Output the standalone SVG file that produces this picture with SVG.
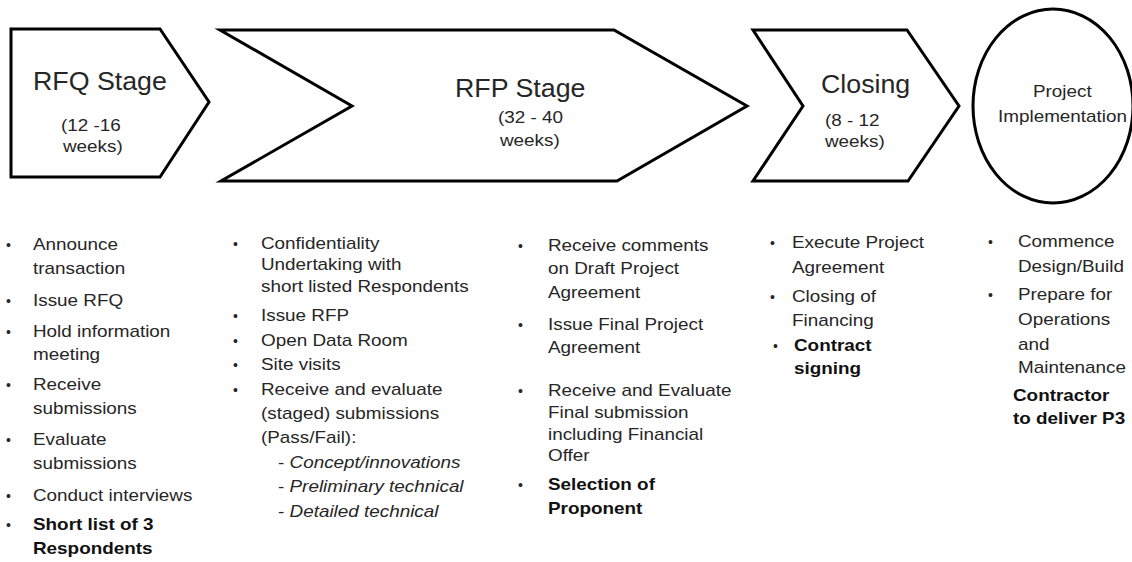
<svg xmlns="http://www.w3.org/2000/svg" width="1132" height="562" viewBox="0 0 1132 562">
  <style>
    .shape { fill: #ffffff; stroke: #000000; stroke-width: 3; stroke-linejoin: miter; }
    text { font-family: "Liberation Sans", Arial, sans-serif; fill: #262626; }
    .title { font-size: 26px; }
    .sub { font-size: 16px; }
    .body { font-size: 16px; }
    .b { font-weight: bold; fill: #111111; }
    .it { font-style: italic; }
    .dot { font-size: 14px; }
  </style>
  <rect width="1132" height="562" fill="#ffffff"/>

  <!-- stage shapes -->
  <g id="rfq-stage">
    <path class="shape" d="M11,29 L160,29 L209,102 L160,177 L11,177 Z"/>
    <text class="title" transform="translate(33,90) scale(1.03,1)">RFQ Stage</text>
    <text class="sub" transform="translate(61,131) scale(1.18,1)">(12 -16</text>
    <text class="sub" transform="translate(63,152) scale(1.18,1)">weeks)</text>
  </g>

  <g id="rfp-stage">
    <path class="shape" d="M220,30 L614,30 L747,106 L617,181 L221,181 L352,106 Z"/>
    <text class="title" transform="translate(455,97) scale(1.03,1)">RFP Stage</text>
    <text class="sub" transform="translate(498,123) scale(1.18,1)">(32 - 40</text>
    <text class="sub" transform="translate(500,146) scale(1.18,1)">weeks)</text>
  </g>

  <g id="closing-stage">
    <path class="shape" d="M753,30 L907,30 L959,106 L908,181 L753,181 L803,106 Z"/>
    <text class="title" transform="translate(821,93) scale(1.03,1)">Closing</text>
    <text class="sub" transform="translate(825,126) scale(1.18,1)">(8 - 12</text>
    <text class="sub" transform="translate(825,147) scale(1.18,1)">weeks)</text>
  </g>

  <g id="project-implementation">
    <ellipse class="shape" cx="1053" cy="106" rx="80" ry="97" stroke-width="2.6"/>
    <text class="sub" transform="translate(1033,97) scale(1.18,1)">Project</text>
    <text class="sub" transform="translate(998,122) scale(1.18,1)">Implementation</text>
  </g>

  <!-- no connectors: stages abut each other -->
  <g id="connectors"></g>

  <!-- RFQ activities -->
  <g id="rfq-tasks" class="body">
    <text class="dot" x="6" y="250">•</text>
    <text transform="translate(33,250) scale(1.18,1)">Announce</text>
    <text transform="translate(33,274) scale(1.18,1)">transaction</text>
    <text class="dot" x="6" y="306">•</text>
    <text transform="translate(33,306) scale(1.18,1)">Issue RFQ</text>
    <text class="dot" x="6" y="337">•</text>
    <text transform="translate(33,337) scale(1.18,1)">Hold information</text>
    <text transform="translate(33,360) scale(1.18,1)">meeting</text>
    <text class="dot" x="6" y="390">•</text>
    <text transform="translate(33,390) scale(1.18,1)">Receive</text>
    <text transform="translate(33,414) scale(1.18,1)">submissions</text>
    <text class="dot" x="6" y="445">•</text>
    <text transform="translate(33,445) scale(1.18,1)">Evaluate</text>
    <text transform="translate(33,469) scale(1.18,1)">submissions</text>
    <text class="dot" x="6" y="501">•</text>
    <text transform="translate(33,501) scale(1.18,1)">Conduct interviews</text>
    <text class="dot" x="6" y="530">•</text>
    <text class="b" transform="translate(33,530) scale(1.18,1)">Short list of 3</text>
    <text class="b" transform="translate(33,554) scale(1.18,1)">Respondents</text>
  </g>

  <!-- RFP activities, first column -->
  <g id="rfp-tasks-a" class="body">
    <text class="dot" x="233" y="249">•</text>
    <text transform="translate(261,249) scale(1.18,1)">Confidentiality</text>
    <text transform="translate(261,270) scale(1.18,1)">Undertaking with</text>
    <text transform="translate(261,292) scale(1.18,1)">short listed Respondents</text>
    <text class="dot" x="233" y="321">•</text>
    <text transform="translate(261,321) scale(1.18,1)">Issue RFP</text>
    <text class="dot" x="233" y="346">•</text>
    <text transform="translate(261,346) scale(1.18,1)">Open Data Room</text>
    <text class="dot" x="233" y="370">•</text>
    <text transform="translate(261,370) scale(1.18,1)">Site visits</text>
    <text class="dot" x="233" y="395">•</text>
    <text transform="translate(261,395) scale(1.18,1)">Receive and evaluate</text>
    <text transform="translate(261,419) scale(1.18,1)">(staged) submissions</text>
    <text transform="translate(261,443) scale(1.18,1)">(Pass/Fail):</text>
    <text transform="translate(278,468) scale(1.18,1)">- <tspan class="it">Concept/innovations</tspan></text>
    <text transform="translate(278,492) scale(1.18,1)">- <tspan class="it">Preliminary technical</tspan></text>
    <text transform="translate(278,517) scale(1.18,1)">- <tspan class="it">Detailed technical</tspan></text>
  </g>

  <!-- RFP activities, second column -->
  <g id="rfp-tasks-b" class="body">
    <text class="dot" x="518" y="251">•</text>
    <text transform="translate(548,251) scale(1.18,1)">Receive comments</text>
    <text transform="translate(548,274) scale(1.18,1)">on Draft Project</text>
    <text transform="translate(548,298) scale(1.18,1)">Agreement</text>
    <text class="dot" x="518" y="330">•</text>
    <text transform="translate(548,330) scale(1.18,1)">Issue Final Project</text>
    <text transform="translate(548,353) scale(1.18,1)">Agreement</text>
    <text class="dot" x="518" y="396">•</text>
    <text transform="translate(548,396) scale(1.18,1)">Receive and Evaluate</text>
    <text transform="translate(548,418) scale(1.18,1)">Final submission</text>
    <text transform="translate(548,440) scale(1.18,1)">including Financial</text>
    <text transform="translate(548,461) scale(1.18,1)">Offer</text>
    <text class="dot" x="518" y="490">•</text>
    <text class="b" transform="translate(548,490) scale(1.18,1)">Selection of</text>
    <text class="b" transform="translate(548,514) scale(1.18,1)">Proponent</text>
  </g>

  <!-- Closing activities -->
  <g id="closing-tasks" class="body">
    <text class="dot" x="770" y="248">•</text>
    <text transform="translate(792,248) scale(1.18,1)">Execute Project</text>
    <text transform="translate(792,273) scale(1.18,1)">Agreement</text>
    <text class="dot" x="770" y="302">•</text>
    <text transform="translate(792,302) scale(1.18,1)">Closing of</text>
    <text transform="translate(792,326) scale(1.18,1)">Financing</text>
    <text class="dot" x="773" y="351">•</text>
    <text class="b" transform="translate(794,351) scale(1.18,1)">Contract</text>
    <text class="b" transform="translate(794,374) scale(1.18,1)">signing</text>
  </g>

  <!-- Implementation activities -->
  <g id="implementation-tasks" class="body">
    <text class="dot" x="988" y="247">•</text>
    <text transform="translate(1018,247) scale(1.18,1)">Commence</text>
    <text transform="translate(1018,272) scale(1.18,1)">Design/Build</text>
    <text class="dot" x="988" y="300">•</text>
    <text transform="translate(1018,300) scale(1.18,1)">Prepare for</text>
    <text transform="translate(1018,325) scale(1.18,1)">Operations</text>
    <text transform="translate(1018,350) scale(1.18,1)">and</text>
    <text transform="translate(1018,373) scale(1.18,1)">Maintenance</text>
    <text class="b" transform="translate(1013,401) scale(1.18,1)">Contractor</text>
    <text class="b" transform="translate(1013,424) scale(1.18,1)">to deliver P3</text>
  </g>
</svg>
